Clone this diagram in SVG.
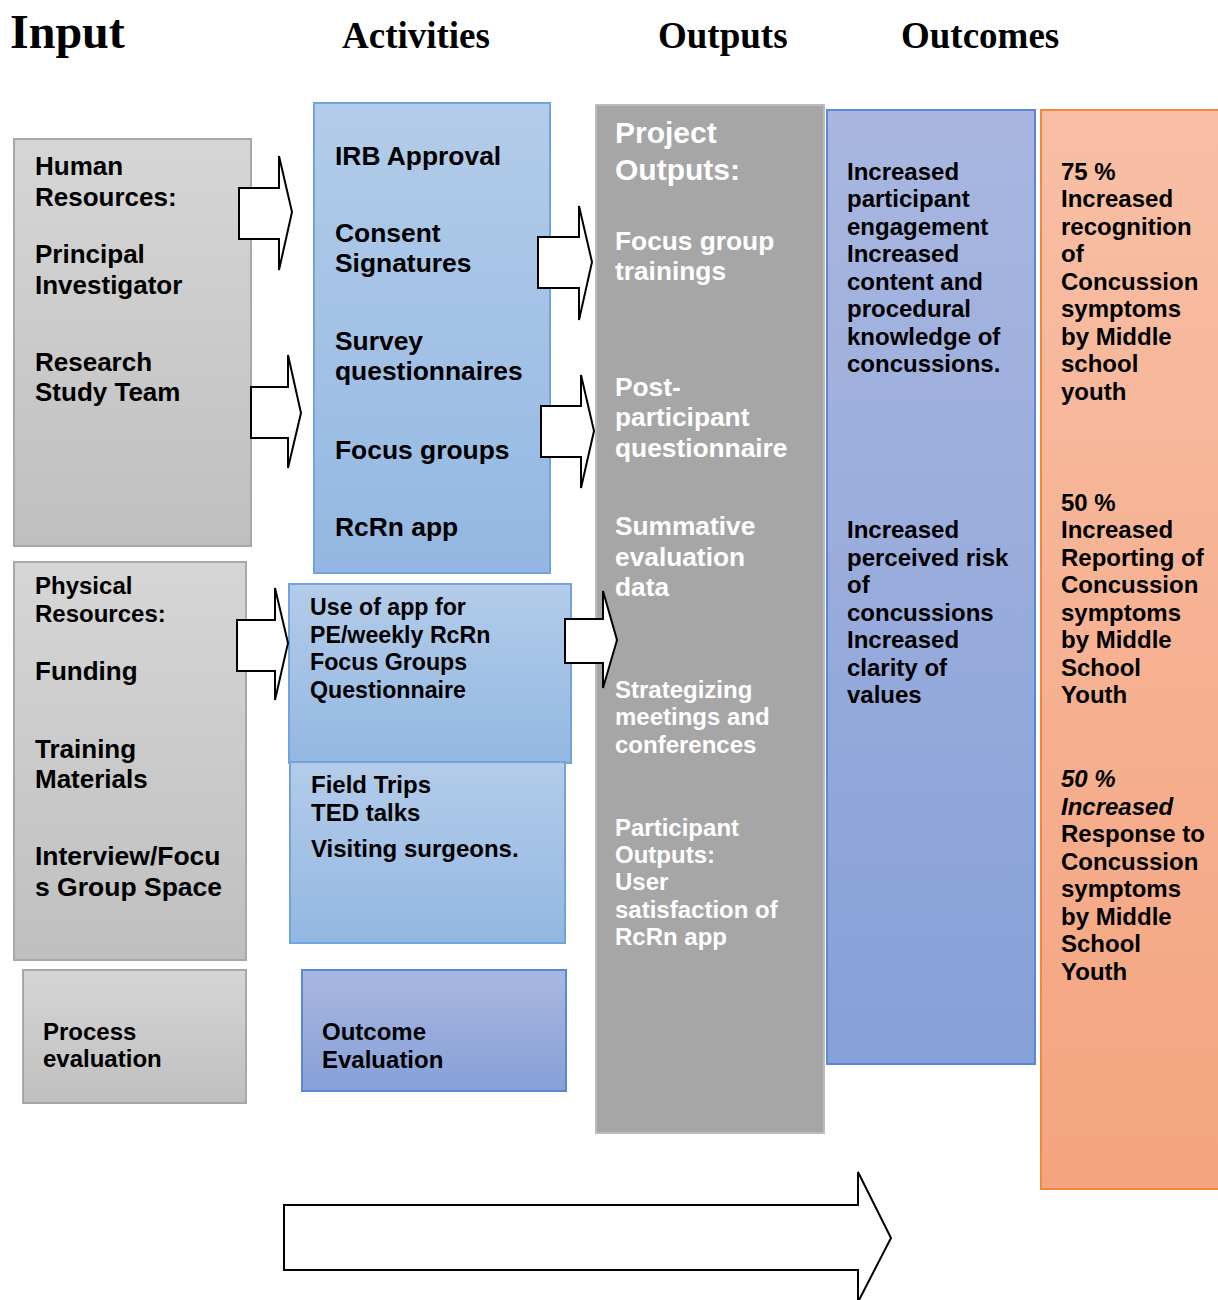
<svg xmlns="http://www.w3.org/2000/svg" width="1218" height="1300" viewBox="0 0 1218 1300">
<defs>
<linearGradient id="gGray" x1="0" y1="0" x2="0" y2="1"><stop offset="0" stop-color="#d6d6d6"/><stop offset="1" stop-color="#bfbfbf"/></linearGradient>
<linearGradient id="gBlue" x1="0" y1="0" x2="0" y2="1"><stop offset="0" stop-color="#b3cce9"/><stop offset="1" stop-color="#93b7e2"/></linearGradient>
<linearGradient id="gPurple" x1="0" y1="0" x2="0" y2="1"><stop offset="0" stop-color="#a9b7e0"/><stop offset="1" stop-color="#87a0d8"/></linearGradient>
<linearGradient id="gOrange" x1="0" y1="0" x2="0" y2="1"><stop offset="0" stop-color="#f8bfa5"/><stop offset="1" stop-color="#f4a47f"/></linearGradient>
</defs>
<style>
.hdr{font-family:"Liberation Serif","Times New Roman",serif;font-weight:bold;fill:#000}
.t{font-family:"Liberation Sans",Arial,sans-serif;font-weight:bold;fill:#000}
.w{font-family:"Liberation Sans",Arial,sans-serif;font-weight:bold;fill:#fff}
.gray{fill:url(#gGray);stroke:#a8a8a8;stroke-width:2}
.blue{fill:url(#gBlue);stroke:#72a3dc;stroke-width:2}
.purple{fill:url(#gPurple);stroke:#5b87d6;stroke-width:2}
.orange{fill:url(#gOrange);stroke:#f0883e;stroke-width:2}
.out{fill:#a6a6a6;stroke:#bcbcbc;stroke-width:2}
.arr{fill:#fff;stroke:#000;stroke-width:2;stroke-linejoin:miter}
</style>
<rect width="1218" height="1300" fill="#fff"/>

<g id="headers">
<text class="hdr" x="10" y="48" font-size="48">Input</text>
<text class="hdr" x="342" y="48" font-size="37">Activities</text>
<text class="hdr" x="658" y="48" font-size="37">Outputs</text>
<text class="hdr" x="901" y="48" font-size="37">Outcomes</text>
</g>

<g id="human-resources">
<rect class="gray" x="14" y="139" width="237" height="407"/>
<text class="t" font-size="26" x="35"><tspan x="35" y="175">Human</tspan><tspan x="35" y="206">Resources:</tspan><tspan x="35" y="263">Principal</tspan><tspan x="35" y="294">Investigator</tspan><tspan x="35" y="371">Research</tspan><tspan x="35" y="401">Study Team</tspan></text>
</g>

<g id="physical-resources">
<rect class="gray" x="14" y="562" width="232" height="398"/>
<text class="t" font-size="24"><tspan x="35" y="594">Physical</tspan><tspan x="35" y="622">Resources:</tspan></text>
<text class="t" font-size="26"><tspan x="35" y="680">Funding</tspan><tspan x="35" y="758">Training</tspan><tspan x="35" y="788">Materials</tspan></text>
<text class="t" font-size="26.5"><tspan x="35" y="865">Interview/Focu</tspan><tspan x="35" y="896">s Group Space</tspan></text>
</g>

<g id="process-evaluation">
<rect class="gray" x="23" y="970" width="223" height="133"/>
<text class="t" font-size="24"><tspan x="43" y="1040">Process</tspan><tspan x="43" y="1067">evaluation</tspan></text>
</g>

<g id="activities-main">
<rect class="blue" x="314" y="103" width="236" height="470"/>
<text class="t" font-size="26.4"><tspan x="335" y="165">IRB Approval</tspan><tspan x="335" y="242">Consent</tspan><tspan x="335" y="272">Signatures</tspan><tspan x="335" y="350">Survey</tspan><tspan x="335" y="380">questionnaires</tspan><tspan x="335" y="459">Focus groups</tspan><tspan x="335" y="536">RcRn app</tspan></text>
</g>

<g id="activities-app">
<rect class="blue" x="289" y="584" width="282" height="179"/>
<text class="t" font-size="23.2"><tspan x="310" y="615">Use of app for</tspan><tspan x="310" y="643">PE/weekly RcRn</tspan><tspan x="310" y="670">Focus Groups</tspan><tspan x="310" y="698">Questionnaire</tspan></text>
</g>

<g id="activities-trips">
<rect class="blue" x="290" y="762" width="275" height="181"/>
<text class="t" font-size="24"><tspan x="311" y="793">Field Trips</tspan><tspan x="311" y="821">TED talks</tspan><tspan x="311" y="857">Visiting surgeons.</tspan></text>
</g>

<g id="outcome-evaluation">
<rect class="purple" x="302" y="970" width="264" height="121"/>
<text class="t" font-size="24"><tspan x="322" y="1040">Outcome</tspan><tspan x="322" y="1068">Evaluation</tspan></text>
</g>

<g id="outputs">
<rect class="out" x="596" y="105" width="228" height="1028"/>
<text class="w" font-size="30"><tspan x="615" y="143">Project</tspan><tspan x="615" y="180">Outputs:</tspan></text>
<text class="w" font-size="26.3"><tspan x="615" y="250">Focus group</tspan><tspan x="615" y="280">trainings</tspan><tspan x="615" y="396">Post-</tspan><tspan x="615" y="426">participant</tspan><tspan x="615" y="457">questionnaire</tspan><tspan x="615" y="535">Summative</tspan><tspan x="615" y="566">evaluation</tspan><tspan x="615" y="596">data</tspan></text>
<text class="w" font-size="24"><tspan x="615" y="698">Strategizing</tspan><tspan x="615" y="725">meetings and</tspan><tspan x="615" y="753">conferences</tspan><tspan x="615" y="836">Participant</tspan><tspan x="615" y="863">Outputs:</tspan><tspan x="615" y="890">User</tspan><tspan x="615" y="918">satisfaction of</tspan><tspan x="615" y="945">RcRn app</tspan></text>
</g>

<g id="outcomes-short">
<rect class="purple" x="827" y="110" width="208" height="954"/>
<text class="t" font-size="24"><tspan x="847" y="180">Increased</tspan><tspan x="847" y="207">participant</tspan><tspan x="847" y="235">engagement</tspan><tspan x="847" y="262">Increased</tspan><tspan x="847" y="290">content and</tspan><tspan x="847" y="317">procedural</tspan><tspan x="847" y="345">knowledge of</tspan><tspan x="847" y="372">concussions.</tspan><tspan x="847" y="538">Increased</tspan><tspan x="847" y="566">perceived risk</tspan><tspan x="847" y="593">of</tspan><tspan x="847" y="621">concussions</tspan><tspan x="847" y="648">Increased</tspan><tspan x="847" y="676">clarity of</tspan><tspan x="847" y="703">values</tspan></text>
</g>

<g id="outcomes-long">
<rect class="orange" x="1041" y="110" width="180" height="1079"/>
<text class="t" font-size="24"><tspan x="1061" y="180">75 %</tspan><tspan x="1061" y="207">Increased</tspan><tspan x="1061" y="235">recognition</tspan><tspan x="1061" y="262">of</tspan><tspan x="1061" y="290">Concussion</tspan><tspan x="1061" y="317">symptoms</tspan><tspan x="1061" y="345">by Middle</tspan><tspan x="1061" y="372">school</tspan><tspan x="1061" y="400">youth</tspan><tspan x="1061" y="511">50 %</tspan><tspan x="1061" y="538">Increased</tspan><tspan x="1061" y="566">Reporting of</tspan><tspan x="1061" y="593">Concussion</tspan><tspan x="1061" y="621">symptoms</tspan><tspan x="1061" y="648">by Middle</tspan><tspan x="1061" y="676">School</tspan><tspan x="1061" y="703">Youth</tspan></text>
<text class="t" font-size="24" font-style="italic"><tspan x="1061" y="787">50 %</tspan><tspan x="1061" y="815">Increased</tspan></text>
<text class="t" font-size="24"><tspan x="1061" y="842">Response to</tspan><tspan x="1061" y="870">Concussion</tspan><tspan x="1061" y="897">symptoms</tspan><tspan x="1061" y="925">by Middle</tspan><tspan x="1061" y="952">School</tspan><tspan x="1061" y="980">Youth</tspan></text>
</g>

<g id="connectors">
<path class="arr" d="M239,188 H279 V156 L292,212 L279,270 V239 H239 Z"/>
<path class="arr" d="M251,387 H288 V355 L301,413 L288,468 V438 H251 Z"/>
<path class="arr" d="M538,237 H579 V206 L592,262 L579,320 V288 H538 Z"/>
<path class="arr" d="M541,406 H581 V375 L594,431 L581,488 V457 H541 Z"/>
<path class="arr" d="M237,620 H275 V588 L288,643 L275,700 V671 H237 Z"/>
<path class="arr" d="M565,619 H603 V591 L617,640 L603,688 V663 H565 Z"/>
<path class="arr" d="M284,1205 H858 V1172 L891,1238 L858,1302 V1270 H284 Z"/>
</g>
</svg>
